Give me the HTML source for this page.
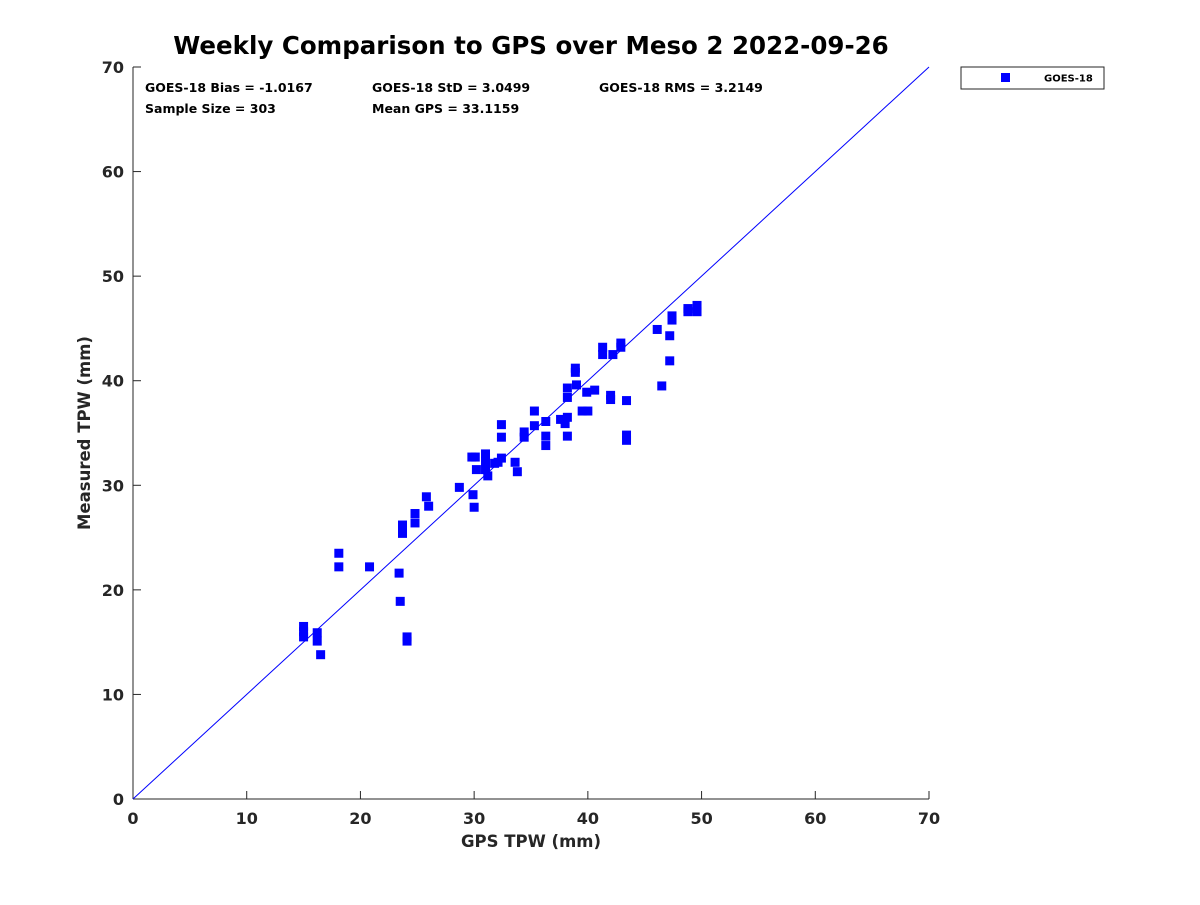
<!DOCTYPE html>
<html><head><meta charset="utf-8"><style>
body{margin:0;background:#fff;}
svg text{font-family:"DejaVu Sans","Liberation Sans",sans-serif;font-weight:bold;fill:#262626;}
</style></head><body>
<svg id="chart" width="1200" height="900" xmlns="http://www.w3.org/2000/svg">
<rect width="1200" height="900" fill="#fff"/>
<text x="531" y="54" text-anchor="middle" font-size="24.5" style="fill:#000">Weekly Comparison to GPS over Meso 2 2022-09-26</text>
<g id="axes"></g>
<g id="marks"></g>
<g font-size="12.5">
<text x="145" y="92" style="fill:#000">GOES-18 Bias = -1.0167</text>
<text x="372" y="92" style="fill:#000">GOES-18 StD = 3.0499</text>
<text x="599" y="92" style="fill:#000">GOES-18 RMS = 3.2149</text>
<text x="145" y="113" style="fill:#000">Sample Size = 303</text>
<text x="372" y="113" style="fill:#000">Mean GPS = 33.1159</text>
</g>
<g>
<rect x="961" y="67" width="143" height="22" fill="#fff" stroke="#262626" stroke-width="1"/>
<rect x="1001" y="73" width="9" height="9" fill="#0000ff"/>
<text x="1044" y="81.5" font-size="10" style="fill:#000">GOES-18</text>
</g>
<text x="531" y="847" text-anchor="middle" font-size="16.5">GPS TPW (mm)</text>
<text transform="translate(90,433) rotate(-90)" text-anchor="middle" font-size="16.5">Measured TPW (mm)</text>
</svg>
<script>
const ticks=[0,10,20,30,40,50,60,70];
const gpsX=[15,15,15,16.2,16.2,16.5,18.1,18.1,20.8,23.4,23.5,23.7,23.7,23.7,24.1,24.1,24.8,24.8,25.8,26,28.7,29.8,30.1,29.9,30,30.2,31,31,31,31.2,31.8,32.1,32.4,32.4,32.4,33.6,33.8,34.4,34.4,35.3,35.3,36.3,36.3,36.3,37.6,38,38.2,38.2,38.2,38.2,38.9,38.9,39,39.5,40,39.9,40.6,41.3,41.3,42.2,42,42,42.9,42.9,43.4,43.4,43.4,46.1,46.5,47.2,47.2,47.4,47.4,48.8,48.8,49.6,49.6];
const measY=[16.5,16,15.5,15.9,15.1,13.8,23.5,22.2,22.2,21.6,18.9,26.2,25.8,25.4,15.5,15.1,27.3,26.4,28.9,28,29.8,32.7,32.7,29.1,27.9,31.5,33,32.3,31.5,30.9,32.1,32.2,35.8,34.6,32.6,32.2,31.3,35.1,34.6,35.7,37.1,36.1,34.7,33.8,36.3,35.9,39.3,38.4,34.7,36.5,41.2,40.8,39.6,37.1,37.1,38.9,39.1,43.2,42.5,42.5,38.6,38.2,43.6,43.2,38.1,34.8,34.3,44.9,39.5,44.3,41.9,46.2,45.8,46.9,46.6,47.2,46.6];
const NS='http://www.w3.org/2000/svg';
const x0=133,x1=929,y0=799,y1=67;
const sx=v=>x0+(v-0)/70*(x1-x0);
const sy=v=>y0-(v-0)/70*(y0-y1);
function mk(t,a,p){const e=document.createElementNS(NS,t);for(const k in a)e.setAttribute(k,a[k]);p.appendChild(e);return e;}
const ax=document.getElementById('axes');
const xl=mk('line',{x1:x0,y1:y0,x2:x1,y2:y0,stroke:'#262626'},ax);


const yl=mk('line',{x1:x0,y1:y0,x2:x0,y2:y1,stroke:'#262626'},ax);


ticks.forEach(t=>{
 mk('line',{x1:sx(t),y1:y0,x2:sx(t),y2:y0-8,stroke:'#262626'},ax);
 const tx=mk('text',{x:sx(t),y:y0+25,'text-anchor':'middle','font-size':'16'},ax);tx.textContent=t;
 
 
 mk('line',{x1:x0,y1:sy(t),x2:x0+8,y2:sy(t),stroke:'#262626'},ax);
 const ty=mk('text',{x:x0-9,y:sy(t)+6,'text-anchor':'end','font-size':'16'},ax);ty.textContent=t;
 
 
});
const m=document.getElementById('marks');
const ref=mk('line',{x1:sx(0),y1:sy(0),x2:sx(70),y2:sy(70),stroke:'#0000ff','stroke-width':1},m);


gpsX.forEach((v,i)=>{
 const r=mk('rect',{x:sx(v)-4.5,y:sy(measY[i])-4.5,width:9,height:9,fill:'#0000ff'},m);
 
 
});
</script>
</body></html>
